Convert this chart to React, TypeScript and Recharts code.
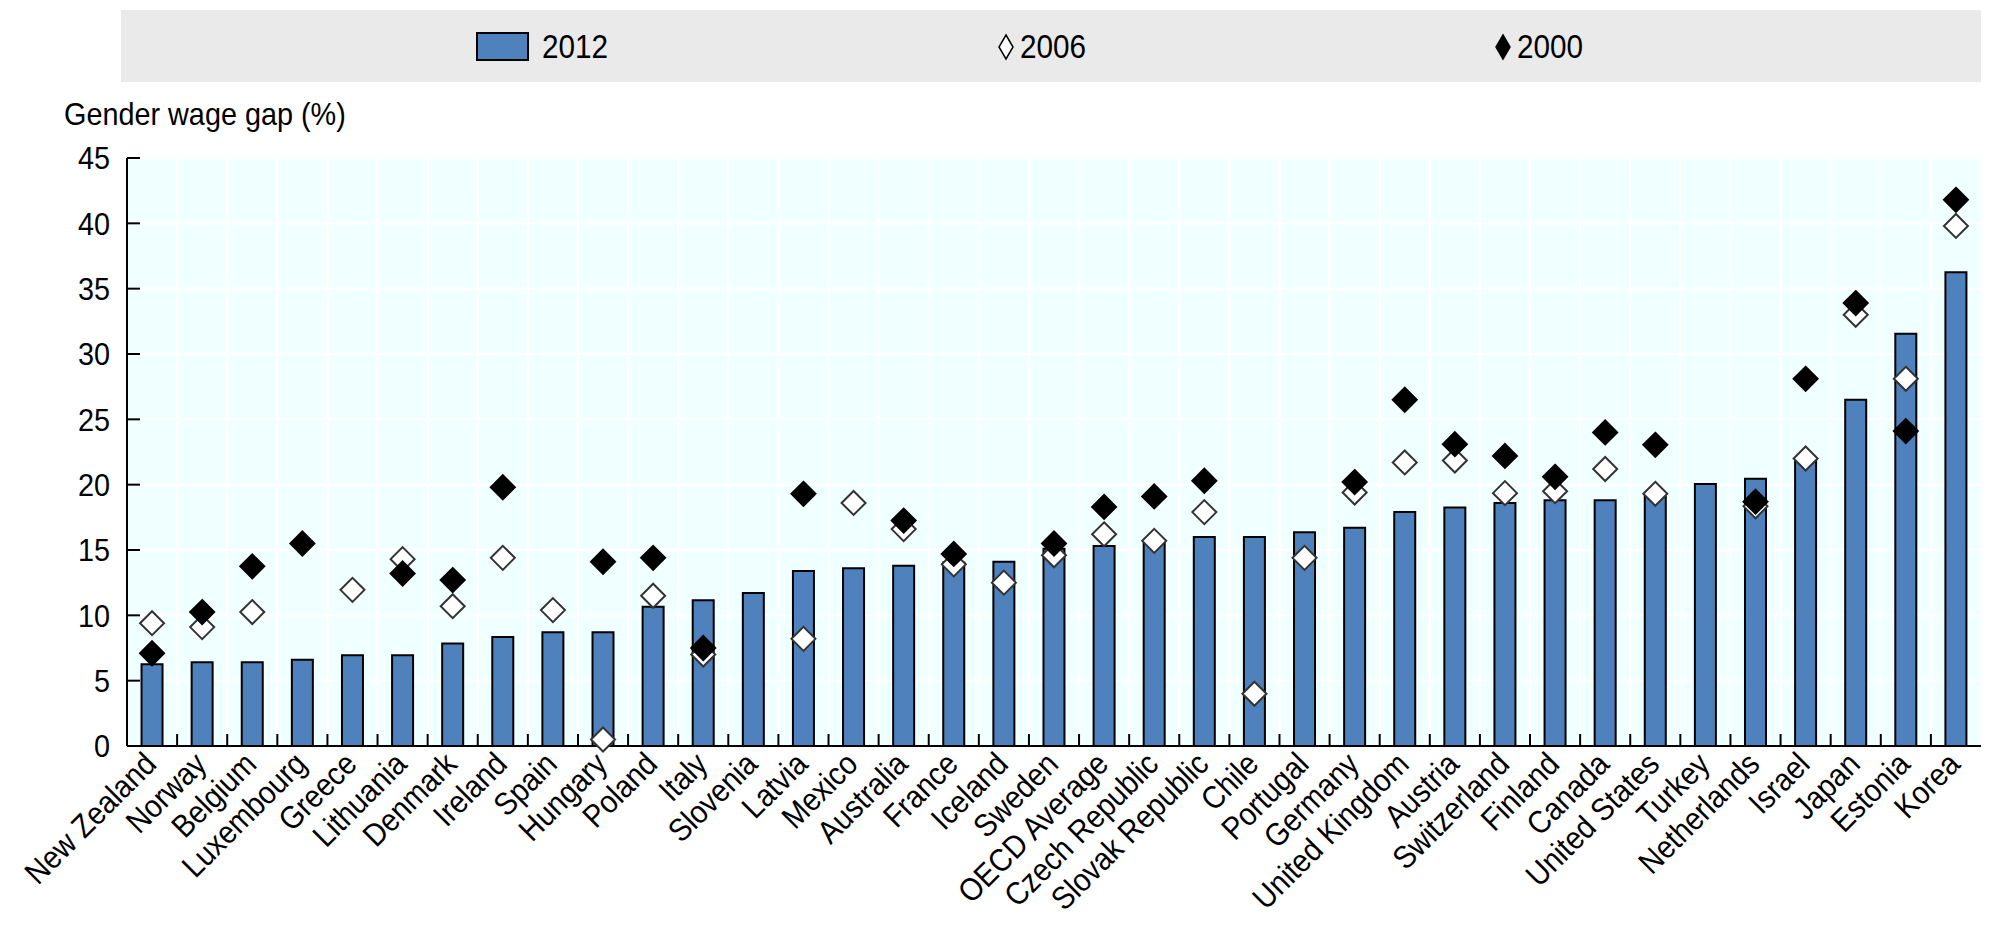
import { ComposedChart, Bar, Scatter, XAxis, YAxis, CartesianGrid, Legend } from "recharts";

const countries = [
  "New Zealand", "Norway", "Belgium", "Luxembourg", "Greece", "Lithuania", "Denmark", "Ireland",
  "Spain", "Hungary", "Poland", "Italy", "Slovenia", "Latvia", "Mexico", "Australia", "France",
  "Iceland", "Sweden", "OECD Average", "Czech Republic", "Slovak Republic", "Chile", "Portugal",
  "Germany", "United Kingdom", "Austria", "Switzerland", "Finland", "Canada", "United States",
  "Turkey", "Netherlands", "Israel", "Japan", "Estonia", "Korea",
];

const gap2012 = [
  6.25, 6.4, 6.4, 6.6, 6.95, 6.95, 7.85, 8.35, 8.7, 8.7, 10.65, 11.15, 11.7, 13.4, 13.6, 13.8, 14.05,
  14.1, 15.1, 15.3, 15.6, 16.0, 16.0, 16.35, 16.7, 17.9, 18.25, 18.6, 18.8, 18.8, 19.1,
  20.05, 20.45, 21.9, 26.5, 31.55, 36.25,
];

const gap2006 = [
  9.4, 9.1, 10.25, null, 11.95, 14.3, 10.7, 14.4, 10.4, 0.5, 11.5, 7.0, null, 8.2, 18.6, 16.6, 13.9,
  12.5, 14.6, 16.2, 15.7, 17.9, 4.0, 14.4, 19.4, 21.7, 21.85, 19.35, 19.5, 21.2, 19.3,
  null, 18.35, 22.0, 33.0, 28.1, 39.8,
];

const gap2000 = [
  7.1, 10.25, 13.75, 15.5, null, 13.2, 12.7, 19.8, null, 14.1, 14.4, 7.5, null, 19.3, null, 17.25, 14.7,
  null, 15.5, 18.3, 19.1, 20.3, null, null, 20.2, 26.5, 23.1, 22.2, 20.6, 24.0, 23.05,
  null, 18.7, 28.1, 33.9, 24.1, 41.8,
];

const yTicks = [0, 5, 10, 15, 20, 25, 30, 35, 40, 45];
const legendYears = ["2012", "2006", "2000"];

const data = countries.map((country, i) => ({
  country,
  y2012: gap2012[i],
  y2006: gap2006[i],
  y2000: gap2000[i],
}));

// no narrow font installed, so text is squeezed a little to look like Arial Narrow
const FONT = "'Liberation Sans', Arial, sans-serif";
const SQUEEZE = 0.9;
const BAR_BLUE = "#4F81BD";

const diamond = (props: any, key: string, fill: string, stroke: string) => {
  const { cx, cy, payload } = props;
  if (!payload || payload[key] == null || !Number.isFinite(cx) || !Number.isFinite(cy)) return <g />;
  const r = 12;
  return (
    <polygon
      points={`${cx},${cy - r} ${cx + r},${cy} ${cx},${cy + r} ${cx - r},${cy}`}
      fill={fill}
      stroke={stroke}
      strokeWidth={2}
    />
  );
};

const CountryTick = (props: any) => {
  const { x, y, payload, width, visibleTicksCount } = props;
  const band = width / (visibleTicksCount || countries.length);
  const left = x - band / 2;
  const ax = x + 6;
  const ay = y + 20;
  return (
    <g>
      <line x1={left} x2={left} y1={y} y2={y - 12} stroke="#000" strokeWidth={2} />
      <text
        x={0}
        y={0}
        transform={`translate(${ax},${ay}) rotate(-45) scale(${SQUEEZE},1)`}
        textAnchor="end"
        fontSize={32}
        fontFamily={FONT}
        fill="#000"
      >
        {payload.value}
      </text>
    </g>
  );
};

const ValueTick = (props: any) => {
  const { x, y, payload } = props;
  return (
    <text
      x={0}
      y={0}
      dy="0.355em"
      transform={`translate(${x},${y}) scale(${SQUEEZE},1)`}
      textAnchor="end"
      fontSize={32}
      fontFamily={FONT}
      fill="#000"
    >
      {payload.value}
    </text>
  );
};

const legendLefts = [476, 997, 1494];

const squeezed = { display: "inline-block", transform: `scaleX(${SQUEEZE})`, transformOrigin: "left center" };

const renderLegend = () => (
  <div style={{ position: "relative", width: 2000, height: 148, fontFamily: FONT }}>
    <div style={{ position: "absolute", left: 121, top: 0, width: 1860, height: 72, background: "#EAEAEA" }} />
    {legendYears.map((year, i) => (
      <div
        key={year}
        style={{ position: "absolute", left: legendLefts[i], top: 22, height: 30, display: "flex", alignItems: "center" }}
      >
        <svg width={i === 0 ? 54 : 18} height={30} style={{ display: "block" }}>
          {i === 0 ? (
            <rect x={1} y={1} width={51} height={27} fill={BAR_BLUE} stroke="#000" strokeWidth={2} />
          ) : (
            <polygon
              points="9,3 16,15 9,27 2,15"
              fill={i === 1 ? "#fff" : "#000"}
              stroke="#000"
              strokeWidth={1.5}
            />
          )}
        </svg>
        <span style={{ ...squeezed, fontSize: 33, marginLeft: i === 0 ? 12 : 5, color: "#000", lineHeight: "30px" }}>{year}</span>
      </div>
    ))}
    <div style={{ position: "absolute", left: 64, top: 88, fontSize: 32, lineHeight: "32px", color: "#000", whiteSpace: "nowrap" }}>
      <span style={squeezed}>Gender wage gap (%)</span>
    </div>
  </div>
);

export default function App() {
  return (
    <div style={{ position: "absolute", left: 0, top: 0, width: 2000, height: 941, background: "#fff", fontFamily: FONT }}>
      <ComposedChart
        width={2000}
        height={941}
        data={data}
        margin={{ top: 10, right: 19, bottom: 0, left: 0 }}
        barCategoryGap="29%"
      >
        <Legend verticalAlign="top" content={renderLegend} wrapperStyle={{ left: 0, top: 10, width: 2000 }} />
        <CartesianGrid
          fill="#F0FFFF"
          stroke="#FFFFFF"
          strokeWidth={2.5}
          verticalCoordinatesGenerator={({ offset }: any) =>
            countries.map((_, i) => offset.left + (i * offset.width) / countries.length)
          }
        />
        <XAxis
          dataKey="country"
          interval={0}
          height={195}
          tickSize={0}
          tickMargin={0}
          tickLine={false}
          axisLine={{ stroke: "#000", strokeWidth: 2 }}
          tick={<CountryTick />}
        />
        <XAxis xAxisId="top" dataKey="country" orientation="top" height={0} tick={false} tickLine={false} axisLine={{ stroke: "#000", strokeWidth: 2 }} />
        <YAxis
          domain={[0, 45]}
          ticks={yTicks}
          interval={0}
          width={127}
          tickSize={-13}
          tickMargin={30}
          axisLine={{ stroke: "#000", strokeWidth: 2 }}
          tickLine={{ stroke: "#000", strokeWidth: 2 }}
          tick={<ValueTick />}
        />
        <YAxis yAxisId="right" orientation="right" domain={[0, 45]} width={0} tick={false} tickLine={false} axisLine={{ stroke: "#000", strokeWidth: 2 }} />
        <Bar dataKey="y2012" fill={BAR_BLUE} stroke="#000" strokeWidth={2} isAnimationActive={false} />
        <Scatter dataKey="y2006" isAnimationActive={false} shape={(p: any) => diamond(p, "y2006", "#fff", "#333")} />
        <Scatter dataKey="y2000" isAnimationActive={false} shape={(p: any) => diamond(p, "y2000", "#000", "#000")} />
      </ComposedChart>
    </div>
  );
}
